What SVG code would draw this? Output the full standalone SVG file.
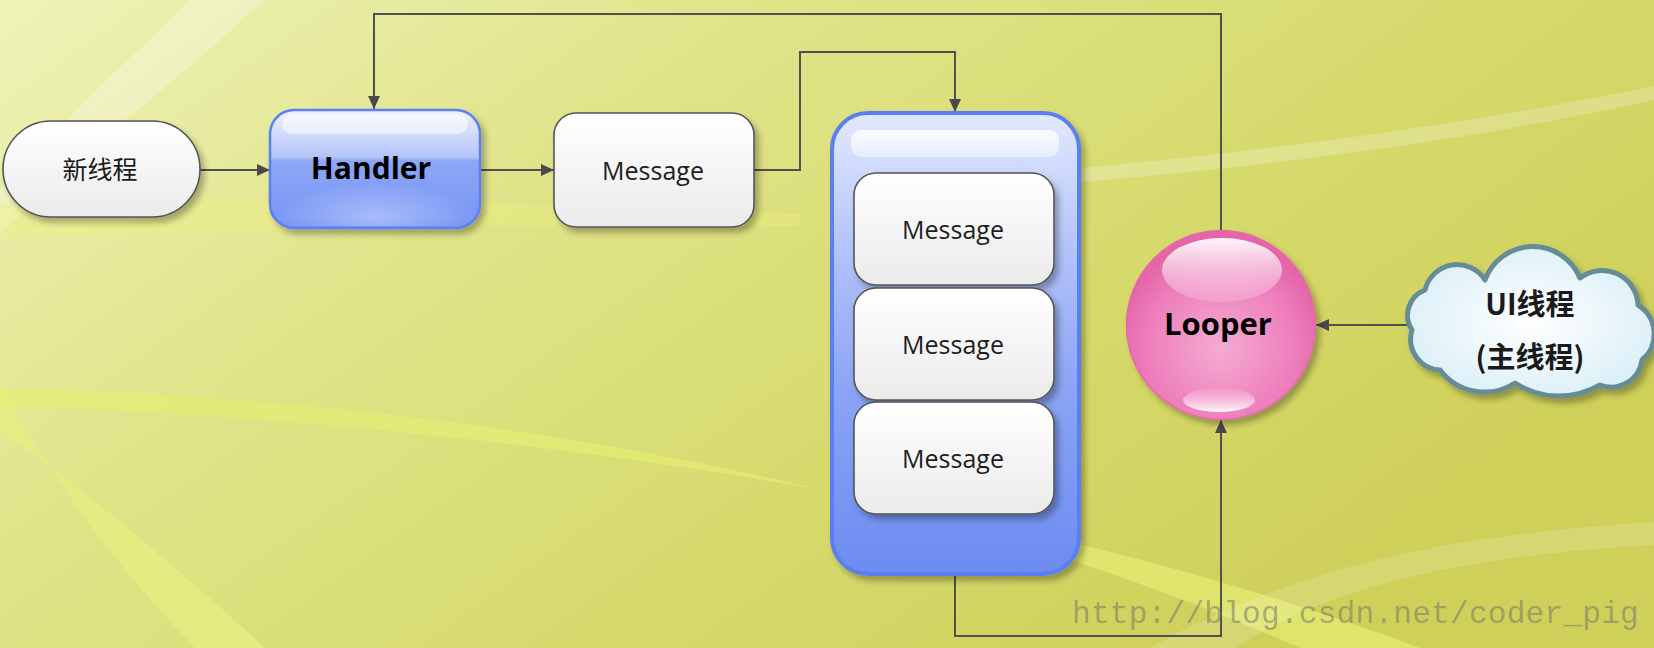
<svg xmlns="http://www.w3.org/2000/svg" width="1654" height="648" viewBox="0 0 1654 648">
  <defs>
    <style>
      .conn { fill: none; stroke: #505050; stroke-width: 2; }
      .msg { font-family: "Open Sans", "Noto Sans", sans-serif; font-size: 25px; fill: #1e1e1e; text-anchor: middle; }
      .bold { font-family: "Open Sans", "Noto Sans", sans-serif; font-weight: 700; fill: #000; text-anchor: middle; }
      .cjk { font-family: "Noto Sans CJK SC", "Noto Sans", sans-serif; text-anchor: middle; fill: #1a1a1a; }
      .wbox { fill: url(#gWhite); stroke: #555; stroke-width: 1.6; }
    </style>
    <linearGradient id="gBg" x1="0" y1="0" x2="1" y2="0.55">
      <stop offset="0" stop-color="#eef3b8"/>
      <stop offset="0.35" stop-color="#e0e48a"/>
      <stop offset="0.7" stop-color="#d6da6c"/>
      <stop offset="1" stop-color="#cfd05a"/>
    </linearGradient>
    <linearGradient id="gWhite" x1="0" y1="0" x2="0" y2="1">
      <stop offset="0" stop-color="#ffffff"/>
      <stop offset="1" stop-color="#ebebeb"/>
    </linearGradient>
    <linearGradient id="gBlue" x1="0" y1="0" x2="0" y2="1">
      <stop offset="0" stop-color="#eef2fe"/>
      <stop offset="0.4" stop-color="#b3c3f9"/>
      <stop offset="0.43" stop-color="#8ea6f6"/>
      <stop offset="1" stop-color="#7493f3"/>
    </linearGradient>
    <radialGradient id="gBlueGlow" cx="0.5" cy="0.85" r="0.5">
      <stop offset="0" stop-color="#b4c6fb" stop-opacity="0.8"/>
      <stop offset="1" stop-color="#b4c6fb" stop-opacity="0"/>
    </radialGradient>
    <linearGradient id="gQueue" x1="0" y1="0" x2="0" y2="1">
      <stop offset="0" stop-color="#e2e8fd"/>
      <stop offset="0.3" stop-color="#b2c3f9"/>
      <stop offset="0.6" stop-color="#8ba4f5"/>
      <stop offset="1" stop-color="#6c8cf1"/>
    </linearGradient>
    <linearGradient id="gBar" x1="0" y1="0" x2="0" y2="1">
      <stop offset="0" stop-color="#ffffff" stop-opacity="0.85"/>
      <stop offset="1" stop-color="#ffffff" stop-opacity="0.45"/>
    </linearGradient>
    <radialGradient id="gPink" cx="0.5" cy="0.62" r="0.55">
      <stop offset="0" stop-color="#f4acd2"/>
      <stop offset="0.7" stop-color="#ee7fbc"/>
      <stop offset="1" stop-color="#e466a9"/>
    </radialGradient>
    <linearGradient id="gHiTop" x1="0" y1="0" x2="0" y2="1">
      <stop offset="0" stop-color="#ffffff" stop-opacity="0.95"/>
      <stop offset="1" stop-color="#fbd3e8" stop-opacity="0.25"/>
    </linearGradient>
    <linearGradient id="gHiBot" x1="0" y1="0" x2="0" y2="1">
      <stop offset="0" stop-color="#f6a8d2" stop-opacity="0.4"/>
      <stop offset="1" stop-color="#ffffff" stop-opacity="0.95"/>
    </linearGradient>
    <radialGradient id="gCloud" cx="0.5" cy="0.5" r="0.6">
      <stop offset="0" stop-color="#ffffff"/>
      <stop offset="1" stop-color="#d8eef7"/>
    </radialGradient>
    <filter id="sh" x="-20%" y="-20%" width="150%" height="150%">
      <feDropShadow dx="4" dy="5" stdDeviation="3" flood-color="#000" flood-opacity="0.3"/>
    </filter>
    <marker id="arr" markerUnits="userSpaceOnUse" markerWidth="14" markerHeight="12" refX="13" refY="6" orient="auto">
      <path d="M0,0 L13,6 L0,12 z" fill="#4a4a4a"/>
    </marker>
  </defs>

  <!-- background -->
  <rect x="0" y="0" width="1654" height="648" fill="url(#gBg)"/>
  <g id="bg-bands">
    <path d="M190,0 L264,0 C180,80 70,160 0,235 L0,190 C60,120 130,60 190,0 Z" fill="#ffffff" opacity="0.28"/>
    <path d="M0,203 C300,198 600,204 800,214 L800,226 C600,224 300,228 0,238 Z" fill="#eef27e" opacity="0.35"/>
    <path d="M1080,168 C1300,148 1500,118 1654,86 L1654,100 C1500,134 1300,164 1080,182 Z" fill="#ffffff" opacity="0.22"/>
    <path d="M0,389 C400,394 900,470 1300,648 L1420,648 C1000,490 450,420 0,406 Z" fill="#e6ec74" opacity="0.7"/>
    <path d="M0,375 C40,470 120,570 195,648 L265,648 C170,560 60,470 0,432 Z" fill="#e6ee80" opacity="0.75"/>
    <path d="M1150,648 C1300,565 1450,535 1654,522 L1654,545 C1450,556 1320,592 1235,648 Z" fill="#ffffff" opacity="0.15"/>
  </g>

  <!-- connectors -->
  <g id="connectors">
    <path class="conn" d="M200,170 L270,170" marker-end="url(#arr)"/>
    <path class="conn" d="M480,170 L554,170" marker-end="url(#arr)"/>
    <path class="conn" d="M754,170 L800,170 L800,52 L955,52 L955,112" marker-end="url(#arr)"/>
    <path class="conn" d="M1221,230 L1221,14 L374,14 L374,109" marker-end="url(#arr)"/>
    <path class="conn" d="M955,574 L955,636 L1221,636 L1221,420" marker-end="url(#arr)"/>
    <path class="conn" d="M1408,325 L1316,325" marker-end="url(#arr)"/>
  </g>

  <!-- 新线程 -->
  <g id="new-thread">
    <rect class="wbox" x="3" y="121" width="197" height="96" rx="48" filter="url(#sh)"/>
    <text class="cjk" x="100" y="179" font-size="25">新线程</text>
  </g>

  <!-- Handler -->
  <g id="handler">
    <rect x="270" y="110" width="210" height="118" rx="24" fill="url(#gBlue)" stroke="#5b80f3" stroke-width="2.5" filter="url(#sh)"/>
    <rect x="272" y="160" width="206" height="66" rx="22" fill="url(#gBlueGlow)"/>
    <rect x="282" y="114" width="186" height="20" rx="10" fill="#ffffff" opacity="0.55"/>
    <text class="bold" x="371" y="179" font-size="30">Handler</text>
  </g>

  <!-- Message (top) -->
  <g id="message-top">
    <rect class="wbox" x="554" y="113" width="200" height="114" rx="22" filter="url(#sh)"/>
    <text class="msg" x="653" y="180">Message</text>
  </g>

  <!-- Message queue -->
  <g id="message-queue">
    <rect x="832" y="113" width="247" height="461" rx="36" fill="url(#gQueue)" stroke="#5a7ff3" stroke-width="4" filter="url(#sh)"/>
    <rect x="851" y="130" width="208" height="27" rx="10" fill="url(#gBar)"/>
  </g>
  <g id="queue-msg-1">
    <rect class="wbox" x="854" y="173" width="200" height="112" rx="22" filter="url(#sh)"/>
    <text class="msg" x="953" y="239">Message</text>
  </g>
  <g id="queue-msg-2">
    <rect class="wbox" x="854" y="288" width="200" height="112" rx="22" filter="url(#sh)"/>
    <text class="msg" x="953" y="354">Message</text>
  </g>
  <g id="queue-msg-3">
    <rect class="wbox" x="854" y="402" width="200" height="112" rx="22" filter="url(#sh)"/>
    <text class="msg" x="953" y="468">Message</text>
  </g>

  <!-- Looper -->
  <g id="looper">
    <circle cx="1221" cy="325" r="94.5" fill="url(#gPink)" stroke="#e26aa9" stroke-width="1.5" filter="url(#sh)"/>
    <ellipse cx="1222" cy="270" rx="60" ry="32" fill="url(#gHiTop)"/>
    <ellipse cx="1219" cy="400" rx="36" ry="12" fill="url(#gHiBot)"/>
    <text class="bold" x="1218" y="335" font-size="31">Looper</text>
  </g>

  <!-- UI thread cloud -->
  <g id="ui-thread">
    <path d="M1412,330 A27 27 0 0 1 1425,290 A33 33 0 0 1 1485,280 A51 51 0 0 1 1580,278 A36 36 0 0 1 1638,305 A34 34 0 0 1 1642,360 A31 31 0 0 1 1600,385 A81 81 0 0 1 1515,383 A56 56 0 0 1 1440,370 A31 31 0 0 1 1412,330 Z" fill="url(#gCloud)" stroke="#668c95" stroke-width="5" stroke-linejoin="round" filter="url(#sh)"/>
    <text class="cjk" x="1530" y="315" font-size="29" font-weight="700" fill="#000">UI线程</text>
    <text class="cjk" x="1530" y="368" font-size="29" font-weight="700" fill="#000">(主线程)</text>
  </g>

  <!-- watermark -->
  <text x="1072" y="623" font-family="Liberation Mono, monospace" font-size="32" textLength="567" lengthAdjust="spacingAndGlyphs" fill="#7a7a66" opacity="0.55">http://blog.csdn.net/coder_pig</text>
</svg>
